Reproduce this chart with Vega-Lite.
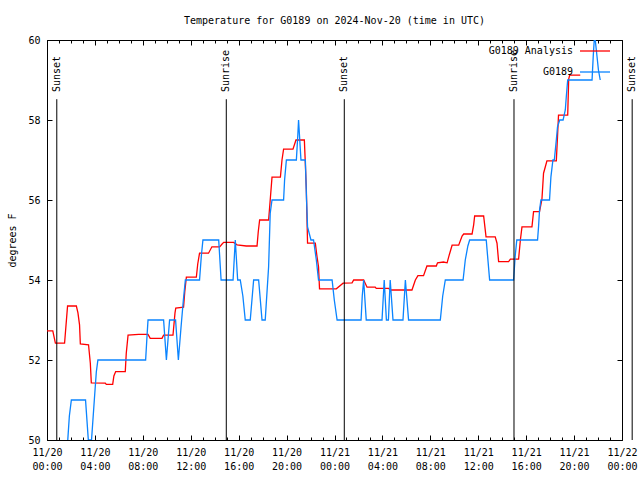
{
 "$schema": "https://vega.github.io/schema/vega-lite/v6.json",
 "width": 575, "height": 400,
 "autosize": {"type": "none"},
 "padding": {"left": 47, "top": 40, "right": 18, "bottom": 40},
 "background": "white",
 "title": {"text": "Temperature for G0189 on 2024-Nov-20 (time in UTC)", "font": "DejaVu Sans Mono", "fontSize": 10, "fontWeight": "normal", "color": "black", "anchor": "middle", "frame": "group", "offset": 9},
 "config": {
  "view": {"stroke": "black", "strokeWidth": 1},
  "axis": {"domain": false, "grid": false, "labelFont": "DejaVu Sans Mono", "labelFontSize": 10, "labelColor": "black", "tickColor": "black", "tickWidth": 1, "titleFont": "DejaVu Sans Mono", "titleFontSize": 10, "titleFontWeight": "normal", "titleColor": "black", "labelOverlap": false, "labelFlush": false}
 },
 "datasets": {
  "analysis": [
   {"t":"2024-11-20T00:00:00Z","v":52.73},{"t":"2024-11-20T00:29:00Z","v":52.73},{"t":"2024-11-20T00:42:00Z","v":52.42},{"t":"2024-11-20T01:28:00Z","v":52.42},{"t":"2024-11-20T01:43:00Z","v":53.35},{"t":"2024-11-20T02:27:00Z","v":53.35},{"t":"2024-11-20T02:35:00Z","v":53.18},{"t":"2024-11-20T02:43:00Z","v":52.88},{"t":"2024-11-20T02:47:00Z","v":52.4},{"t":"2024-11-20T03:28:00Z","v":52.38},{"t":"2024-11-20T03:37:00Z","v":51.92},{"t":"2024-11-20T03:42:00Z","v":51.43},{"t":"2024-11-20T04:52:00Z","v":51.42},{"t":"2024-11-20T04:57:00Z","v":51.39},{"t":"2024-11-20T05:29:00Z","v":51.39},{"t":"2024-11-20T05:35:00Z","v":51.6},{"t":"2024-11-20T05:44:00Z","v":51.71},{"t":"2024-11-20T06:32:00Z","v":51.71},{"t":"2024-11-20T06:37:00Z","v":52.17},{"t":"2024-11-20T06:46:00Z","v":52.62},{"t":"2024-11-20T07:39:00Z","v":52.64},{"t":"2024-11-20T08:26:00Z","v":52.64},{"t":"2024-11-20T08:37:00Z","v":52.54},{"t":"2024-11-20T09:36:00Z","v":52.54},{"t":"2024-11-20T09:44:00Z","v":52.62},{"t":"2024-11-20T10:31:00Z","v":52.62},{"t":"2024-11-20T10:41:00Z","v":53.17},{"t":"2024-11-20T10:45:00Z","v":53.3},{"t":"2024-11-20T11:24:00Z","v":53.32},{"t":"2024-11-20T11:30:00Z","v":53.7},{"t":"2024-11-20T11:38:00Z","v":54.07},{"t":"2024-11-20T12:28:00Z","v":54.07},{"t":"2024-11-20T12:35:00Z","v":54.4},{"t":"2024-11-20T12:44:00Z","v":54.67},{"t":"2024-11-20T13:29:00Z","v":54.67},{"t":"2024-11-20T13:46:00Z","v":54.83},{"t":"2024-11-20T14:25:00Z","v":54.83},{"t":"2024-11-20T14:37:00Z","v":54.9},{"t":"2024-11-20T14:45:00Z","v":54.94},{"t":"2024-11-20T15:35:00Z","v":54.94},{"t":"2024-11-20T15:52:00Z","v":54.88},{"t":"2024-11-20T16:38:00Z","v":54.85},{"t":"2024-11-20T17:32:00Z","v":54.85},{"t":"2024-11-20T17:38:00Z","v":55.2},{"t":"2024-11-20T17:45:00Z","v":55.5},{"t":"2024-11-20T18:30:00Z","v":55.5},{"t":"2024-11-20T18:38:00Z","v":56.0},{"t":"2024-11-20T18:47:00Z","v":56.57},{"t":"2024-11-20T19:29:00Z","v":56.57},{"t":"2024-11-20T19:37:00Z","v":57.0},{"t":"2024-11-20T19:45:00Z","v":57.27},{"t":"2024-11-20T20:32:00Z","v":57.27},{"t":"2024-11-20T20:47:00Z","v":57.5},{"t":"2024-11-20T21:29:00Z","v":57.5},{"t":"2024-11-20T21:34:00Z","v":56.9},{"t":"2024-11-20T21:39:00Z","v":56.25},{"t":"2024-11-20T21:45:00Z","v":54.92},{"t":"2024-11-20T22:24:00Z","v":54.92},{"t":"2024-11-20T22:32:00Z","v":54.6},{"t":"2024-11-20T22:40:00Z","v":54.33},{"t":"2024-11-20T22:45:00Z","v":53.78},{"t":"2024-11-21T00:09:00Z","v":53.78},{"t":"2024-11-21T00:43:00Z","v":53.92},{"t":"2024-11-21T01:28:00Z","v":53.93},{"t":"2024-11-21T01:36:00Z","v":54.0},{"t":"2024-11-21T02:26:00Z","v":54.0},{"t":"2024-11-21T02:43:00Z","v":53.82},{"t":"2024-11-21T03:24:00Z","v":53.82},{"t":"2024-11-21T03:29:00Z","v":53.79},{"t":"2024-11-21T04:31:00Z","v":53.79},{"t":"2024-11-21T04:39:00Z","v":53.75},{"t":"2024-11-21T06:28:00Z","v":53.75},{"t":"2024-11-21T06:45:00Z","v":54.0},{"t":"2024-11-21T06:58:00Z","v":54.11},{"t":"2024-11-21T07:26:00Z","v":54.11},{"t":"2024-11-21T07:43:00Z","v":54.35},{"t":"2024-11-21T08:30:00Z","v":54.35},{"t":"2024-11-21T08:36:00Z","v":54.43},{"t":"2024-11-21T09:06:00Z","v":54.45},{"t":"2024-11-21T09:24:00Z","v":54.43},{"t":"2024-11-21T09:32:00Z","v":54.58},{"t":"2024-11-21T09:49:00Z","v":54.87},{"t":"2024-11-21T10:22:00Z","v":54.87},{"t":"2024-11-21T10:39:00Z","v":55.1},{"t":"2024-11-21T10:47:00Z","v":55.15},{"t":"2024-11-21T11:29:00Z","v":55.15},{"t":"2024-11-21T11:37:00Z","v":55.38},{"t":"2024-11-21T11:42:00Z","v":55.6},{"t":"2024-11-21T12:27:00Z","v":55.6},{"t":"2024-11-21T12:39:00Z","v":55.08},{"t":"2024-11-21T13:25:00Z","v":55.08},{"t":"2024-11-21T13:34:00Z","v":54.92},{"t":"2024-11-21T13:42:00Z","v":54.46},{"t":"2024-11-21T14:32:00Z","v":54.46},{"t":"2024-11-21T14:41:00Z","v":54.52},{"t":"2024-11-21T15:22:00Z","v":54.52},{"t":"2024-11-21T15:31:00Z","v":55.0},{"t":"2024-11-21T15:39:00Z","v":55.33},{"t":"2024-11-21T16:29:00Z","v":55.33},{"t":"2024-11-21T16:37:00Z","v":55.71},{"t":"2024-11-21T17:07:00Z","v":55.71},{"t":"2024-11-21T17:19:00Z","v":56.02},{"t":"2024-11-21T17:27:00Z","v":56.67},{"t":"2024-11-21T17:36:00Z","v":56.83},{"t":"2024-11-21T17:44:00Z","v":56.98},{"t":"2024-11-21T18:31:00Z","v":56.98},{"t":"2024-11-21T18:37:00Z","v":57.58},{"t":"2024-11-21T18:42:00Z","v":58.12},{"t":"2024-11-21T19:28:00Z","v":58.12},{"t":"2024-11-21T19:33:00Z","v":59.02},{"t":"2024-11-21T19:38:00Z","v":59.12},{"t":"2024-11-21T20:31:00Z","v":59.12}
  ],
  "obs": [
   {"t":"2024-11-20T00:00:00Z","v":49},{"t":"2024-11-20T01:22:00Z","v":49},{"t":"2024-11-20T01:44:00Z","v":50},{"t":"2024-11-20T01:52:00Z","v":50.6},{"t":"2024-11-20T02:02:00Z","v":51},{"t":"2024-11-20T03:13:00Z","v":51},{"t":"2024-11-20T03:27:00Z","v":50},{"t":"2024-11-20T03:43:00Z","v":50},{"t":"2024-11-20T03:57:00Z","v":51},{"t":"2024-11-20T04:07:00Z","v":51.7},{"t":"2024-11-20T04:15:00Z","v":52},{"t":"2024-11-20T08:14:00Z","v":52},{"t":"2024-11-20T08:21:00Z","v":52.6},{"t":"2024-11-20T08:26:00Z","v":53},{"t":"2024-11-20T09:44:00Z","v":53},{"t":"2024-11-20T09:58:00Z","v":52},{"t":"2024-11-20T10:14:00Z","v":53},{"t":"2024-11-20T10:44:00Z","v":53},{"t":"2024-11-20T10:58:00Z","v":52},{"t":"2024-11-20T11:11:00Z","v":52.8},{"t":"2024-11-20T11:23:00Z","v":53.5},{"t":"2024-11-20T11:33:00Z","v":54},{"t":"2024-11-20T12:44:00Z","v":54},{"t":"2024-11-20T12:53:00Z","v":54.6},{"t":"2024-11-20T13:01:00Z","v":55},{"t":"2024-11-20T14:20:00Z","v":55},{"t":"2024-11-20T14:32:00Z","v":54},{"t":"2024-11-20T15:32:00Z","v":54},{"t":"2024-11-20T15:43:00Z","v":55},{"t":"2024-11-20T15:55:00Z","v":54},{"t":"2024-11-20T16:08:00Z","v":54},{"t":"2024-11-20T16:21:00Z","v":53.6},{"t":"2024-11-20T16:33:00Z","v":53},{"t":"2024-11-20T16:58:00Z","v":53},{"t":"2024-11-20T17:15:00Z","v":54},{"t":"2024-11-20T17:40:00Z","v":54},{"t":"2024-11-20T17:57:00Z","v":53},{"t":"2024-11-20T18:13:00Z","v":53},{"t":"2024-11-20T18:30:00Z","v":54.33},{"t":"2024-11-20T18:38:00Z","v":55.67},{"t":"2024-11-20T18:47:00Z","v":56},{"t":"2024-11-20T19:45:00Z","v":56},{"t":"2024-11-20T19:50:00Z","v":56.5},{"t":"2024-11-20T19:59:00Z","v":57},{"t":"2024-11-20T20:49:00Z","v":57},{"t":"2024-11-20T20:56:00Z","v":57.6},{"t":"2024-11-20T21:00:00Z","v":58},{"t":"2024-11-20T21:12:00Z","v":57},{"t":"2024-11-20T21:34:00Z","v":57},{"t":"2024-11-20T21:40:00Z","v":56},{"t":"2024-11-20T21:45:00Z","v":55.33},{"t":"2024-11-20T22:02:00Z","v":55},{"t":"2024-11-20T22:15:00Z","v":55},{"t":"2024-11-20T22:29:00Z","v":54.5},{"t":"2024-11-20T22:40:00Z","v":54},{"t":"2024-11-20T23:48:00Z","v":54},{"t":"2024-11-20T23:59:00Z","v":53.5},{"t":"2024-11-21T00:13:00Z","v":53},{"t":"2024-11-21T02:13:00Z","v":53},{"t":"2024-11-21T02:19:00Z","v":53.6},{"t":"2024-11-21T02:26:00Z","v":54},{"t":"2024-11-21T02:39:00Z","v":53},{"t":"2024-11-21T03:58:00Z","v":53},{"t":"2024-11-21T04:09:00Z","v":54},{"t":"2024-11-21T04:20:00Z","v":53},{"t":"2024-11-21T04:30:00Z","v":53},{"t":"2024-11-21T04:39:00Z","v":54},{"t":"2024-11-21T04:53:00Z","v":53},{"t":"2024-11-21T05:43:00Z","v":53},{"t":"2024-11-21T05:55:00Z","v":54},{"t":"2024-11-21T06:11:00Z","v":53},{"t":"2024-11-21T08:50:00Z","v":53},{"t":"2024-11-21T09:02:00Z","v":53.6},{"t":"2024-11-21T09:15:00Z","v":54},{"t":"2024-11-21T10:44:00Z","v":54},{"t":"2024-11-21T10:55:00Z","v":54.5},{"t":"2024-11-21T11:08:00Z","v":54.85},{"t":"2024-11-21T11:17:00Z","v":55},{"t":"2024-11-21T12:40:00Z","v":55},{"t":"2024-11-21T12:57:00Z","v":54},{"t":"2024-11-21T14:57:00Z","v":54},{"t":"2024-11-21T15:05:00Z","v":54.6},{"t":"2024-11-21T15:13:00Z","v":55},{"t":"2024-11-21T16:57:00Z","v":55},{"t":"2024-11-21T17:02:00Z","v":55.33},{"t":"2024-11-21T17:07:00Z","v":55.75},{"t":"2024-11-21T17:14:00Z","v":56},{"t":"2024-11-21T17:57:00Z","v":56},{"t":"2024-11-21T18:04:00Z","v":56.58},{"t":"2024-11-21T18:14:00Z","v":57},{"t":"2024-11-21T18:21:00Z","v":57},{"t":"2024-11-21T18:31:00Z","v":57.5},{"t":"2024-11-21T18:37:00Z","v":57.83},{"t":"2024-11-21T18:48:00Z","v":58},{"t":"2024-11-21T19:05:00Z","v":58},{"t":"2024-11-21T19:16:00Z","v":58.25},{"t":"2024-11-21T19:21:00Z","v":58.58},{"t":"2024-11-21T19:28:00Z","v":59},{"t":"2024-11-21T21:30:00Z","v":59},{"t":"2024-11-21T21:36:00Z","v":59.6},{"t":"2024-11-21T21:41:00Z","v":60},{"t":"2024-11-21T21:46:00Z","v":60},{"t":"2024-11-21T21:55:00Z","v":59.58},{"t":"2024-11-21T22:02:00Z","v":59.25},{"t":"2024-11-21T22:11:00Z","v":59}
  ],
  "sun": [
   {"t":"2024-11-20T00:49:00Z","label":"Sunset"},{"t":"2024-11-20T14:58:00Z","label":"Sunrise"},{"t":"2024-11-21T00:49:00Z","label":"Sunset"},{"t":"2024-11-21T14:59:00Z","label":"Sunrise"},{"t":"2024-11-22T00:51:00Z","label":"Sunset"}
  ]
 },
 "layer": [
  {
   "data": {"name": "analysis"},
   "transform": [{"calculate": "'G0189 Analysis'", "as": "s"}],
   "mark": {"type": "line", "strokeWidth": 1.3, "clip": true},
   "encoding": {
    "x": {"field": "t", "type": "temporal", "scale": {"type": "utc", "domain": [{"year": 2024, "month": 11, "date": 20, "utc": true}, {"year": 2024, "month": 11, "date": 22, "utc": true}], "nice": false},
      "axis": {"orient": "bottom", "values": [
        {"year":2024,"month":11,"date":20,"hours":0,"utc":true},{"year":2024,"month":11,"date":20,"hours":4,"utc":true},{"year":2024,"month":11,"date":20,"hours":8,"utc":true},{"year":2024,"month":11,"date":20,"hours":12,"utc":true},{"year":2024,"month":11,"date":20,"hours":16,"utc":true},{"year":2024,"month":11,"date":20,"hours":20,"utc":true},
        {"year":2024,"month":11,"date":21,"hours":0,"utc":true},{"year":2024,"month":11,"date":21,"hours":4,"utc":true},{"year":2024,"month":11,"date":21,"hours":8,"utc":true},{"year":2024,"month":11,"date":21,"hours":12,"utc":true},{"year":2024,"month":11,"date":21,"hours":16,"utc":true},{"year":2024,"month":11,"date":21,"hours":20,"utc":true},
        {"year":2024,"month":11,"date":22,"hours":0,"utc":true}],
       "tickSize": -5, "labelPadding": 12, "labelExpr": "utcFormat(datum.value, '%m/%d')", "labelBaseline": "top", "title": null}},
    "y": {"field": "v", "type": "quantitative", "scale": {"domain": [50, 60], "nice": false, "zero": false},
      "axis": {"orient": "left", "values": [50, 52, 54, 56, 58, 60], "tickSize": -5, "labelPadding": 12, "title": "degrees F", "titlePadding": 10}},
    "color": {"field": "s", "type": "nominal", "scale": {"domain": ["G0189 Analysis", "G0189"], "range": ["#ff0000", "#0a84ff"]},
      "legend": {"orient": "none", "legendX": 532, "legendY": -5, "title": null, "symbolType": "stroke", "symbolSize": 900, "symbolStrokeWidth": 1.3, "labelAlign": "right", "labelOffset": -38, "rowPadding": -27, "labelFont": "DejaVu Sans Mono", "labelFontSize": 10, "labelColor": "black"}}
   }
  },
  {
   "data": {"name": "obs"},
   "transform": [{"calculate": "'G0189'", "as": "s"}],
   "mark": {"type": "line", "strokeWidth": 1.3, "clip": true},
   "encoding": {
    "x": {"field": "t", "type": "temporal", "axis": {"orient": "bottom", "values": [
        {"year":2024,"month":11,"date":20,"hours":0,"utc":true},{"year":2024,"month":11,"date":20,"hours":1,"utc":true},{"year":2024,"month":11,"date":20,"hours":2,"utc":true},{"year":2024,"month":11,"date":20,"hours":3,"utc":true},{"year":2024,"month":11,"date":20,"hours":4,"utc":true},{"year":2024,"month":11,"date":20,"hours":5,"utc":true},{"year":2024,"month":11,"date":20,"hours":6,"utc":true},{"year":2024,"month":11,"date":20,"hours":7,"utc":true},{"year":2024,"month":11,"date":20,"hours":8,"utc":true},{"year":2024,"month":11,"date":20,"hours":9,"utc":true},{"year":2024,"month":11,"date":20,"hours":10,"utc":true},{"year":2024,"month":11,"date":20,"hours":11,"utc":true},{"year":2024,"month":11,"date":20,"hours":12,"utc":true},{"year":2024,"month":11,"date":20,"hours":13,"utc":true},{"year":2024,"month":11,"date":20,"hours":14,"utc":true},{"year":2024,"month":11,"date":20,"hours":15,"utc":true},{"year":2024,"month":11,"date":20,"hours":16,"utc":true},{"year":2024,"month":11,"date":20,"hours":17,"utc":true},{"year":2024,"month":11,"date":20,"hours":18,"utc":true},{"year":2024,"month":11,"date":20,"hours":19,"utc":true},{"year":2024,"month":11,"date":20,"hours":20,"utc":true},{"year":2024,"month":11,"date":20,"hours":21,"utc":true},{"year":2024,"month":11,"date":20,"hours":22,"utc":true},{"year":2024,"month":11,"date":20,"hours":23,"utc":true},
        {"year":2024,"month":11,"date":21,"hours":0,"utc":true},{"year":2024,"month":11,"date":21,"hours":1,"utc":true},{"year":2024,"month":11,"date":21,"hours":2,"utc":true},{"year":2024,"month":11,"date":21,"hours":3,"utc":true},{"year":2024,"month":11,"date":21,"hours":4,"utc":true},{"year":2024,"month":11,"date":21,"hours":5,"utc":true},{"year":2024,"month":11,"date":21,"hours":6,"utc":true},{"year":2024,"month":11,"date":21,"hours":7,"utc":true},{"year":2024,"month":11,"date":21,"hours":8,"utc":true},{"year":2024,"month":11,"date":21,"hours":9,"utc":true},{"year":2024,"month":11,"date":21,"hours":10,"utc":true},{"year":2024,"month":11,"date":21,"hours":11,"utc":true},{"year":2024,"month":11,"date":21,"hours":12,"utc":true},{"year":2024,"month":11,"date":21,"hours":13,"utc":true},{"year":2024,"month":11,"date":21,"hours":14,"utc":true},{"year":2024,"month":11,"date":21,"hours":15,"utc":true},{"year":2024,"month":11,"date":21,"hours":16,"utc":true},{"year":2024,"month":11,"date":21,"hours":17,"utc":true},{"year":2024,"month":11,"date":21,"hours":18,"utc":true},{"year":2024,"month":11,"date":21,"hours":19,"utc":true},{"year":2024,"month":11,"date":21,"hours":20,"utc":true},{"year":2024,"month":11,"date":21,"hours":21,"utc":true},{"year":2024,"month":11,"date":21,"hours":22,"utc":true},{"year":2024,"month":11,"date":21,"hours":23,"utc":true},
        {"year":2024,"month":11,"date":22,"hours":0,"utc":true}],
       "tickSize": -3, "labelPadding": 24, "labelExpr": "utchours(datum.value) % 4 == 0 ? utcFormat(datum.value, '%H:%M') : ''", "labelBaseline": "top", "title": null}},
    "y": {"field": "v", "type": "quantitative", "axis": {"orient": "right", "values": [50, 52, 54, 56, 58, 60], "tickSize": -5, "labels": false, "title": null}},
    "color": {"field": "s", "type": "nominal"}
   }
  },
  {
   "data": {"name": "sun"},
   "mark": {"type": "rule", "color": "black", "strokeWidth": 1},
   "encoding": {
    "x": {"field": "t", "type": "temporal", "axis": {"orient": "top", "values": [
        {"year":2024,"month":11,"date":20,"hours":0,"utc":true},{"year":2024,"month":11,"date":20,"hours":4,"utc":true},{"year":2024,"month":11,"date":20,"hours":8,"utc":true},{"year":2024,"month":11,"date":20,"hours":12,"utc":true},{"year":2024,"month":11,"date":20,"hours":16,"utc":true},{"year":2024,"month":11,"date":20,"hours":20,"utc":true},
        {"year":2024,"month":11,"date":21,"hours":0,"utc":true},{"year":2024,"month":11,"date":21,"hours":4,"utc":true},{"year":2024,"month":11,"date":21,"hours":8,"utc":true},{"year":2024,"month":11,"date":21,"hours":12,"utc":true},{"year":2024,"month":11,"date":21,"hours":16,"utc":true},{"year":2024,"month":11,"date":21,"hours":20,"utc":true},
        {"year":2024,"month":11,"date":22,"hours":0,"utc":true}],
       "tickSize": -5, "labels": false, "title": null}},
    "y": {"datum": 50, "type": "quantitative", "axis": null},
    "y2": {"datum": 58.52}
   }
  },
  {
   "data": {"name": "sun"},
   "mark": {"type": "text", "angle": 270, "align": "left", "baseline": "middle", "font": "DejaVu Sans Mono", "fontSize": 10, "color": "black"},
   "encoding": {
    "x": {"field": "t", "type": "temporal", "axis": {"orient": "top", "values": [
        {"year":2024,"month":11,"date":20,"hours":0,"utc":true},{"year":2024,"month":11,"date":20,"hours":1,"utc":true},{"year":2024,"month":11,"date":20,"hours":2,"utc":true},{"year":2024,"month":11,"date":20,"hours":3,"utc":true},{"year":2024,"month":11,"date":20,"hours":4,"utc":true},{"year":2024,"month":11,"date":20,"hours":5,"utc":true},{"year":2024,"month":11,"date":20,"hours":6,"utc":true},{"year":2024,"month":11,"date":20,"hours":7,"utc":true},{"year":2024,"month":11,"date":20,"hours":8,"utc":true},{"year":2024,"month":11,"date":20,"hours":9,"utc":true},{"year":2024,"month":11,"date":20,"hours":10,"utc":true},{"year":2024,"month":11,"date":20,"hours":11,"utc":true},{"year":2024,"month":11,"date":20,"hours":12,"utc":true},{"year":2024,"month":11,"date":20,"hours":13,"utc":true},{"year":2024,"month":11,"date":20,"hours":14,"utc":true},{"year":2024,"month":11,"date":20,"hours":15,"utc":true},{"year":2024,"month":11,"date":20,"hours":16,"utc":true},{"year":2024,"month":11,"date":20,"hours":17,"utc":true},{"year":2024,"month":11,"date":20,"hours":18,"utc":true},{"year":2024,"month":11,"date":20,"hours":19,"utc":true},{"year":2024,"month":11,"date":20,"hours":20,"utc":true},{"year":2024,"month":11,"date":20,"hours":21,"utc":true},{"year":2024,"month":11,"date":20,"hours":22,"utc":true},{"year":2024,"month":11,"date":20,"hours":23,"utc":true},
        {"year":2024,"month":11,"date":21,"hours":0,"utc":true},{"year":2024,"month":11,"date":21,"hours":1,"utc":true},{"year":2024,"month":11,"date":21,"hours":2,"utc":true},{"year":2024,"month":11,"date":21,"hours":3,"utc":true},{"year":2024,"month":11,"date":21,"hours":4,"utc":true},{"year":2024,"month":11,"date":21,"hours":5,"utc":true},{"year":2024,"month":11,"date":21,"hours":6,"utc":true},{"year":2024,"month":11,"date":21,"hours":7,"utc":true},{"year":2024,"month":11,"date":21,"hours":8,"utc":true},{"year":2024,"month":11,"date":21,"hours":9,"utc":true},{"year":2024,"month":11,"date":21,"hours":10,"utc":true},{"year":2024,"month":11,"date":21,"hours":11,"utc":true},{"year":2024,"month":11,"date":21,"hours":12,"utc":true},{"year":2024,"month":11,"date":21,"hours":13,"utc":true},{"year":2024,"month":11,"date":21,"hours":14,"utc":true},{"year":2024,"month":11,"date":21,"hours":15,"utc":true},{"year":2024,"month":11,"date":21,"hours":16,"utc":true},{"year":2024,"month":11,"date":21,"hours":17,"utc":true},{"year":2024,"month":11,"date":21,"hours":18,"utc":true},{"year":2024,"month":11,"date":21,"hours":19,"utc":true},{"year":2024,"month":11,"date":21,"hours":20,"utc":true},{"year":2024,"month":11,"date":21,"hours":21,"utc":true},{"year":2024,"month":11,"date":21,"hours":22,"utc":true},{"year":2024,"month":11,"date":21,"hours":23,"utc":true},
        {"year":2024,"month":11,"date":22,"hours":0,"utc":true}],
       "tickSize": -3, "labels": false, "title": null}},
    "y": {"datum": 58.7, "type": "quantitative", "axis": null},
    "text": {"field": "label"}
   }
  }
 ],
 "resolve": {"axis": {"x": "independent", "y": "independent"}}
}
